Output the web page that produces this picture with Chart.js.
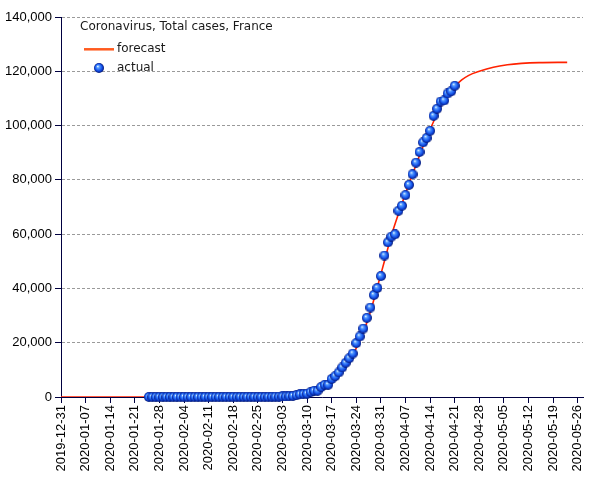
<!DOCTYPE html>
<html>
<head>
<meta charset="utf-8">
<script src="https://cdn.jsdelivr.net/npm/chart.js@4/dist/chart.umd.min.js"></script>
<style>
html, body { margin: 0; padding: 0; background: #fff; }
</style>
</head>
<body>
<canvas id="chart" width="605" height="480"></canvas>
<script>
// data: actual = reported totals, forecast = fitted curve
const startDate = '2019-12-31';
const firstActualDate = '2020-01-25';
const actualValues = [
    2, 3, 3, 3, 4, 5, 5, 5,
    6, 6, 6, 6, 6, 6, 6, 11, 11, 11, 11, 11, 11, 11, 12, 12, 12, 12, 12, 12, 12, 12, 12, 12, 14, 18, 38, 57, 100,
    130, 191, 204, 285, 377, 653, 949, 1126, 1209, 1784, 2281, 2281, 3661, 4469, 4499, 6633, 7652, 9043, 10871,
    12612, 14282, 16018, 19856, 22304, 25233, 29155, 32964, 37575, 40174, 44550, 52128,
    56989, 59105, 59929, 68605, 70478, 74390, 78167, 82048, 86334, 90276, 93790, 95403, 98076,
    103573, 106206, 108847, 109252, 111821, 112606, 114657,
];
// forecast: days after 2019-12-31 and values
const forecastDays = [0, 50, 58, 62, 66, 69, 72, 75, 78, 81, 84, 86, 88, 90, 92, 94, 96, 98, 100, 102, 104, 106, 108, 110, 112, 114, 116, 119, 123, 127, 131, 136, 144];
const forecastValues = [0, 0, 150, 400, 1100, 2000, 3200, 4900, 7600, 11600, 18000, 23800, 31300, 40500, 50000, 59500, 67500, 75000, 82000, 89000, 95500, 101500, 107000, 111000, 114300, 116800, 118500, 120000, 121500, 122400, 122900, 123200, 123300];
const yTicks = [0, 20000, 40000, 60000, 80000, 100000, 120000, 140000];
const chartTitle = 'Coronavirus, Total cases, France';
const seriesNames = ['forecast', 'actual'];

const DAY = 86400000;
const t0 = Date.parse(startDate + 'T00:00:00Z');
const firstDay = (Date.parse(firstActualDate + 'T00:00:00Z') - t0) / DAY;

function dayLabel(v) {
    return new Date(t0 + v * DAY).toISOString().slice(0, 10);
}

// blue shaded ball used as point style
function makeSphere(size) {
    const c = document.createElement('canvas');
    c.width = size; c.height = size;
    const g = c.getContext('2d');
    const r = size / 2;
    const grad = g.createRadialGradient(r * 0.75, r * 0.65, 0.3, r, r, r);
    grad.addColorStop(0, '#e6f2ff');
    grad.addColorStop(0.22, '#5aa0ff');
    grad.addColorStop(0.6, '#1a5cf0');
    grad.addColorStop(0.85, '#0a2fb0');
    grad.addColorStop(1, '#00146a');
    g.fillStyle = grad;
    g.beginPath();
    g.arc(r, r, r, 0, Math.PI * 2);
    g.fill();
    return c;
}
const sphere = makeSphere(10);

const overlay = {
    id: 'overlay',
    afterDraw(chart) {
        const ctx = chart.ctx;
        ctx.save();
        ctx.font = '12px "DejaVu Sans"';
        ctx.fillStyle = '#1a1a1a';
        ctx.textBaseline = 'middle';
        ctx.fillText(chartTitle, 80, 26.5);
        ctx.strokeStyle = '#ff5a1e';
        ctx.lineWidth = 2.5;
        ctx.beginPath();
        ctx.moveTo(84, 49.3);
        ctx.lineTo(114, 49.3);
        ctx.stroke();
        ctx.fillText(seriesNames[0], 117, 49);
        ctx.drawImage(sphere, 99 - 5, 68 - 5);
        ctx.fillText(seriesNames[1], 117, 67.5);
        ctx.restore();
    }
};

const navy = '#000040';
const tickFont = { family: '"Liberation Sans", Arial, sans-serif', size: 13 };

new Chart(document.getElementById('chart').getContext('2d'), {
    type: 'line',
    data: {
        datasets: [
            {
                label: seriesNames[1],
                data: actualValues.map((v, i) => ({ x: firstDay + i, y: v })),
                showLine: false,
                pointStyle: sphere,
                pointRadius: 5,
                clip: false,
                order: 0,
            },
            {
                label: seriesNames[0],
                data: forecastDays.map((d, i) => ({ x: d, y: forecastValues[i] })),
                borderColor: '#ff2200',
                borderWidth: 1.6,
                pointRadius: 0,
                cubicInterpolationMode: 'monotone',
                fill: false,
                order: 1,
            },
        ],
    },
    options: {
        responsive: false,
        animation: false,
        layout: { padding: { top: 17, right: 22, left: 0, bottom: 0 } },
        plugins: {
            legend: { display: false },
            tooltip: { enabled: false },
        },
        scales: {
            x: {
                type: 'linear',
                min: 0,
                max: 148.5,
                afterFit: (s) => { s.height = 83; },
                ticks: {
                    stepSize: 7,
                    includeBounds: false,
                    autoSkip: false,
                    maxRotation: 90,
                    minRotation: 90,
                    padding: 2,
                    color: '#000',
                    font: tickFont,
                    callback: (v) => dayLabel(v),
                },
                grid: {
                    drawOnChartArea: false,
                    tickLength: 6,
                    tickColor: navy,
                },
                border: { color: navy, width: 1 },
            },
            y: {
                min: 0,
                max: 140000,
                afterFit: (s) => { s.width = 61; },
                afterBuildTicks: (s) => { s.ticks = yTicks.map(v => ({ value: v })); },
                ticks: {
                    padding: 3,
                    color: '#000',
                    font: tickFont,
                    callback: (v) => v.toLocaleString('en-US'),
                },
                grid: {
                    color: '#9a9a9a',
                    tickLength: 6,
                    tickColor: navy,
                },
                border: { color: navy, width: 1, dash: [3, 2] },
            },
        },
    },
    plugins: [overlay],
});
</script>
</body>
</html>
